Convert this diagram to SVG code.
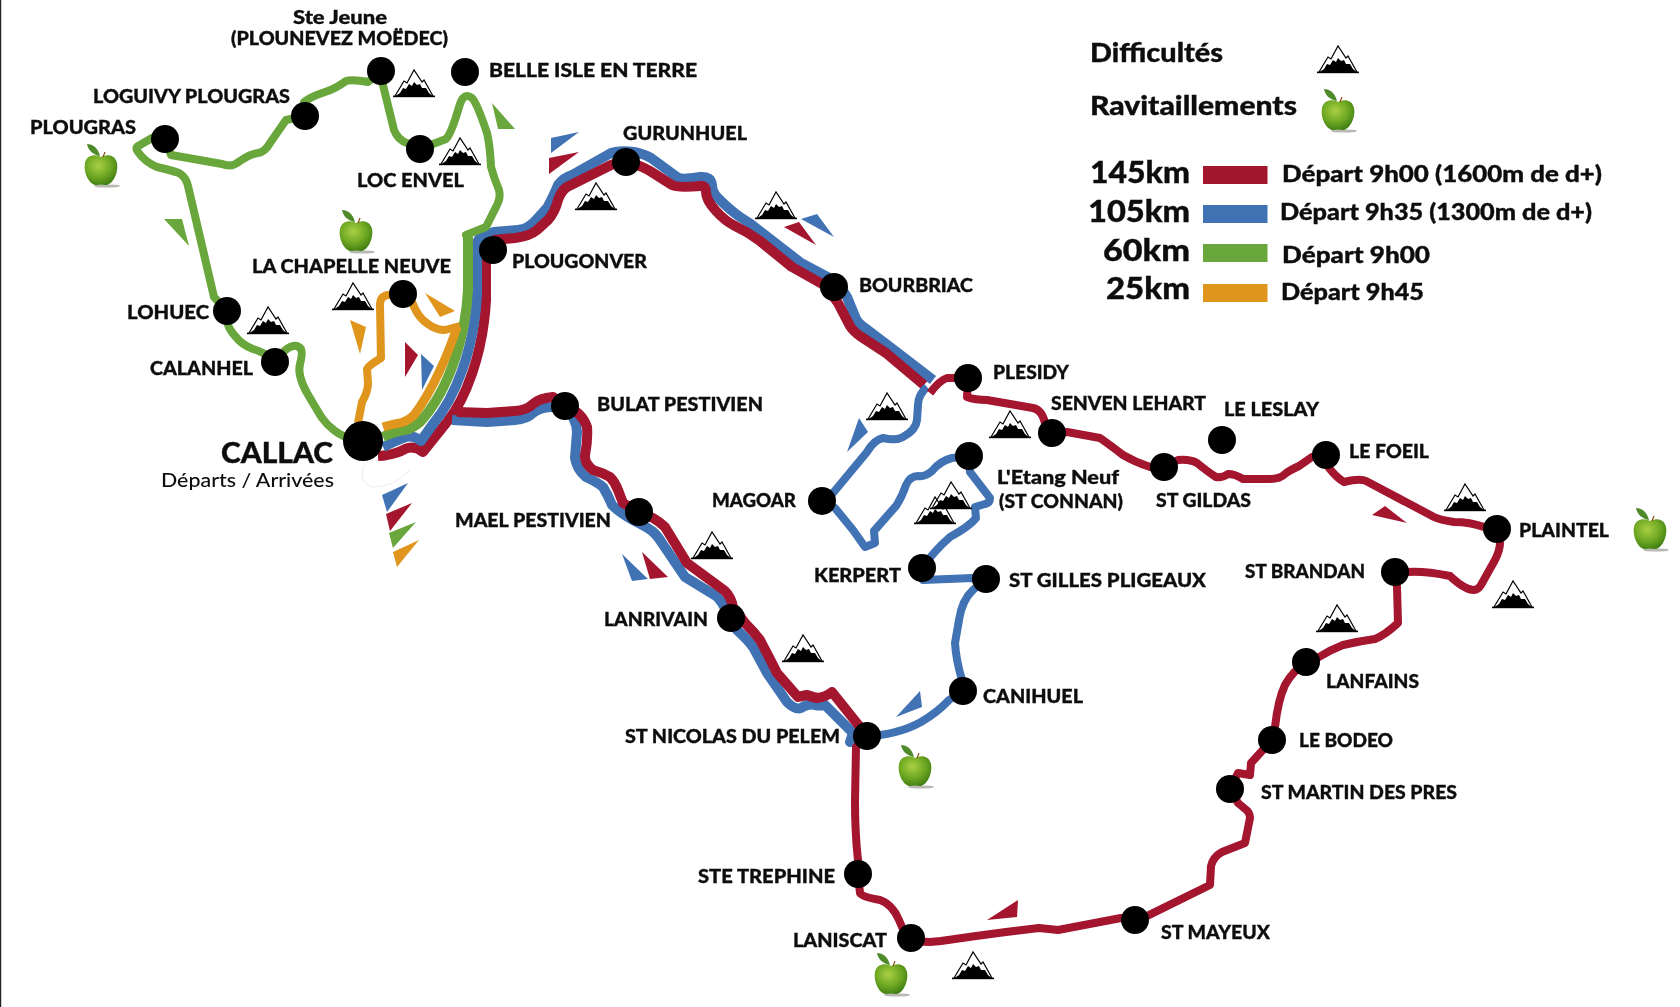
<svg xmlns="http://www.w3.org/2000/svg" width="1680" height="1007" viewBox="0 0 1680 1007">
<style>
.r{fill:none;stroke-width:8;stroke-linejoin:round;stroke-linecap:butt}
.p{stroke-width:10}
.red{stroke:#a3132f}.blue{stroke:#4072b4}.green{stroke:#69a63a}.orange{stroke:#e0951f}
.fr{fill:#a3132f}.fb{fill:#4072b4}.fg{fill:#69a63a}.fo{fill:#e0951f}
.n{fill:#000}
text{font-family:"Lato","Open Sans","Liberation Sans",sans-serif;fill:#0c0c0c;stroke:#0c0c0c;stroke-width:0.35px}
.l{font-size:19.5px;font-weight:900}
.h{font-size:27px;font-weight:900}
.k{font-size:31px;font-weight:900}
.d{font-size:23px;font-weight:900}
</style>
<defs>
<filter id="soft" filterUnits="userSpaceOnUse" x="0" y="0" width="1680" height="1007"><feGaussianBlur stdDeviation="0.5"/></filter>
<radialGradient id="ag" cx="0.42" cy="0.35" r="0.7">
<stop offset="0" stop-color="#a9d044"/><stop offset="0.55" stop-color="#6fa823"/><stop offset="1" stop-color="#3c7a12"/>
</radialGradient>
<g id="apple">
<ellipse cx="6" cy="0" rx="13" ry="1.6" fill="#8a8a80" opacity="0.6"/>
<path d="M0,-29C5,-32 14,-32 16,-23C18,-13 11,0 4,-1C2,-1.5 -2,-1.5 -4,-1C-11,0 -18,-13 -16,-23C-14,-32 -5,-32 0,-29Z" fill="url(#ag)"/>
<path d="M-1,-30C-3,-38 -8,-42 -14,-42C-13,-36 -8,-31 -1,-30Z" fill="#4f8a2c"/>
<path d="M2,-29L4,-34" stroke="#8a4b20" stroke-width="1.2" fill="none"/>
</g>
<g id="mtn">
<path d="M-19,26L-10,11L-7,13L0,0L8,12L10,10L19,26" fill="none" stroke="#000" stroke-width="1.2"/>
<path d="M-20,27L-14,23L-11,18L-8,19L-5,14L-2,16L0,12L3,15L6,14L8,18L12,18L15,23L20,27Z" fill="#000"/>
<rect x="-21" y="25.6" width="42" height="1.6" fill="#000"/>
</g>
</defs>
<rect width="1680" height="1007" fill="#fff"/>
<rect width="1.2" height="1007" fill="#222"/>
<g filter="url(#soft)">
<g id="connectors">
<path class="r p red" d="M378,456Q395,455 405,449Q414,445 423,452L447,422C465,400 483,355 486,300L486,262L493,249"/>
<path class="r p blue" d="M383,447Q397,440 406,437Q414,435 421,441L433,424C455,398 474,350 477,295L477,245Q477,238 484,236L494,232L518,230Q528,229 536,220L547,208Q554,195 558,185Q563,178 572,175L611,153Q620,150 634,152Q645,154 651,158L677,177Q681,180 700,177Q711,176 712,185Q712,193 719,199Q730,210 740,217Q752,224 761,232L801,263L833,280Q843,290 847,297L856,319Q858,323 865,328L894,350L933,380"/>
<path class="r p red" d="M493,240L515,238Q530,236 537,230L548,220Q555,212 558,200Q561,191 567,187L611,165Q620,161 630,163Q640,165 650,171L672,185Q677,188 700,186Q706,185 706,192Q706,200 716,211Q725,221 735,226Q748,232 760,241L792,267L824,285Q834,297 838,303L850,326Q853,331 860,336L886,353L924,385"/>
<path class="r p green" d="M383,437Q395,431 405,430Q412,429 420,422C445,395 465,345 468,290L468,237"/>
<path class="r orange" d="M383,427Q393,424 400,423Q408,421 414,415C432,392 449,352 457,327" style="stroke-width:9"/>
<path class="r orange" d="M403,294L412,302Q418,318 428,324Q436,330 445,330L460,326"/>
<path class="r orange" d="M358,423L362,402Q368,392 368,383L367,369Q368,366 381,358L380,305Q380,296 388,295L403,294"/>
<path class="r green" d="M363,441L353,439Q343,437 335,431Q327,425 322,418Q317,410 307,393Q297,375 300,364Q303,353 301,349Q298,345 293,346Q287,347 281,355L275,362"/>
<path class="r green" d="M275,362L269,357Q263,352 253,349Q242,345 235,336Q227,327 227,319L227,311"/>
<path class="r green" d="M227,311L214,297L188,186Q186,177 179,173Q170,170 157,167Q145,162 138,152Q134,147 140,145L152,138L165,139"/>
<path class="r green" d="M165,139L171,155L222,164Q232,168 240,161Q250,154 258,153Q265,152 270,143L286,120L305,116"/>
<path class="r green" d="M305,116L304,102Q310,97 325,92Q335,89 346,81Q352,79 368,82L381,71"/>
<path class="r green" d="M381,71L383,85L394,130Q398,140 407,143L420,149"/>
<path class="r green" d="M420,149L446,139Q450,135 455,120L460,104Q464,92 472,98Q477,103 487,133Q490,145 491,167Q494,178 499,190Q501,197 497,205L486,227L466,235L468,240"/>
<path class="r blue" d="M927,387Q918,395 918,405L917,420Q916,430 903,437Q896,441 883,438Q874,440 867,452L833,493L822,501"/>
<path class="r blue" d="M822,501L835,508L853,530L865,547L875,543L874,531L896,506Q902,497 906,485Q910,476 918,476Q925,477 932,471Q940,461 952,458L969,456"/>
<path class="r blue" d="M969,456L970,472L990,498Q990,503 985,504L975,507L976,518Q970,526 950,537Q935,550 922,568"/>
<path class="r blue" d="M922,568L923,580L973,578L986,579"/>
<path class="r blue" d="M986,579L973,590Q962,600 959,620L955,643Q956,660 962,680L963,691"/>
<path class="r blue" d="M963,691L949,700Q938,712 921,722Q903,732 880,735L867,736"/>
<path class="r p blue" d="M452,420L487,422L515,420Q527,419 533,413Q540,407 553,407L565,406Q577,420 577,432L575,458Q577,470 586,477Q597,482 603,487Q608,495 612,505Q620,513 633,520Q645,526 652,531Q657,535 662,543L685,577L716,596Q722,601 727,613Q732,622 737,630Q748,640 753,647Q760,660 767,673L787,702Q795,710 801,708Q808,703 815,705Q820,706 825,705L853,733L850,742L867,736"/>
<path class="r p red" d="M457,412L487,413L515,411Q527,410 533,404Q540,398 553,397L565,406Q582,412 587,427Q588,440 585,455Q584,463 593,470Q603,473 610,477Q615,482 618,490L623,503L639,512L653,518Q660,522 665,527L687,563L725,591Q731,597 733,607L745,623Q754,632 760,640Q768,655 777,673L798,697Q802,696 807,695Q812,697 817,698Q826,697 832,692L860,727L867,736"/>
<path class="r red" d="M867,736L856,747L855,800Q855,835 858,860L858,874"/>
<path class="r red" d="M858,874L860,893Q862,897 880,900Q892,904 899,920L902,927L911,938"/>
<path class="r red" d="M911,938Q918,942 930,942L941,941Q975,936 1006,932L1039,928L1058,930L1121,918L1135,918"/>
<path class="r red" d="M1135,918L1145,917L1210,885L1211,866Q1213,857 1222,852L1245,843L1250,818Q1250,812 1244,808L1238,803L1230,789"/>
<path class="r red" d="M1230,789L1238,773L1250,775L1251,763L1272,740"/>
<path class="r red" d="M1272,740L1275,727Q1278,700 1285,685Q1292,672 1306,662"/>
<path class="r red" d="M1306,662L1319,657Q1330,650 1343,645Q1360,641 1375,639Q1385,635 1398,623L1397,587L1395,572"/>
<path class="r red" d="M1395,572L1408,572Q1425,571 1450,576Q1465,590 1474,590Q1478,590 1481,585L1495,560Q1500,550 1500,543L1497,529"/>
<path class="r red" d="M1497,529L1484,527Q1470,522 1454,522Q1440,520 1434,517L1366,481Q1360,478 1344,482Q1337,478 1329,468L1326,455"/>
<path class="r red" d="M1326,455L1312,457L1299,466Q1290,470 1285,474Q1280,479 1270,479L1243,479Q1235,474 1228,474Q1222,478 1216,477Q1208,472 1197,463Q1190,459 1178,460L1164,467"/>
<path class="r red" d="M1164,467L1150,467Q1135,462 1123,455Q1110,445 1100,438L1067,432L1052,433"/>
<path class="r red" d="M1052,433L1045,423Q1042,410 1033,408L987,400Q975,400 967,397L968,378"/>
<path class="r red" d="M968,378L947,378Q940,380 930,393"/>
<path d="M364,465Q358,482 372,487Q392,488 410,470" fill="none" stroke="#e4e4e4" stroke-width="0.8"/>
</g>

<g id="arrows">
<polygon class="fg" points="492,103 515,129 498,129"/>
<polygon class="fg" points="164,219 182,219 189,246"/>
<polygon class="fo" points="425,293 455,311 440,317"/>
<polygon class="fo" points="350,320 366,327 360,354"/>
<polygon class="fr" points="405,342 418,355 405,377"/>
<polygon class="fb" points="421,354 434,366 422,390"/>
<polygon class="fb" points="382,495 408,483 387,512"/>
<polygon class="fr" points="386,514 412,503 390,531"/>
<polygon class="fg" points="389,533 416,522 393,548"/>
<polygon class="fo" points="393,552 419,540 397,567"/>
<polygon class="fb" points="551,138 579,132 551,153"/>
<polygon class="fr" points="549,158 579,152 549,174"/>
<polygon class="fr" points="784,227 799,222 816,245"/>
<polygon class="fb" points="801,219 817,214 834,237"/>
<polygon class="fb" points="859,418 868,432 847,452"/>
<polygon class="fb" points="920,691 922,707 896,717"/>
<polygon class="fb" points="622,554 648,579 632,581"/>
<polygon class="fr" points="642,552 668,577 650,579"/>
<polygon class="fr" points="1018,900 1017,917 987,920"/>
<polygon class="fr" points="1385,506 1407,523 1372,515"/>
</g>

<g id="difficulties">
<use href="#mtn" x="414" y="70"/><use href="#mtn" x="460" y="138"/><use href="#mtn" x="353" y="283"/><use href="#mtn" x="268" y="307"/>
<use href="#mtn" x="596" y="183"/><use href="#mtn" x="776" y="192"/><use href="#mtn" x="887" y="393"/><use href="#mtn" x="1010" y="411"/>
<use href="#mtn" x="951" y="482"/><use href="#mtn" x="935" y="497"/><use href="#mtn" x="712" y="532"/><use href="#mtn" x="803" y="635"/>
<use href="#mtn" x="973" y="952"/><use href="#mtn" x="1465" y="484"/><use href="#mtn" x="1513" y="581"/><use href="#mtn" x="1337" y="605"/>
</g>
<g id="supplies">
<use href="#apple" x="101" y="186"/><use href="#apple" x="356" y="252"/><use href="#apple" x="915" y="787"/><use href="#apple" x="891" y="995"/><use href="#apple" x="1650" y="550"/>
</g>

<g id="node-ste-jeune"><circle class="n" cx="381" cy="71" r="14"/><text class="l" x="293" y="24" textLength="94" lengthAdjust="spacingAndGlyphs">Ste Jeune</text><text class="l" x="231" y="45" textLength="217" lengthAdjust="spacingAndGlyphs">(PLOUNEVEZ MOËDEC)</text></g>
<g id="node-belle-isle"><circle class="n" cx="465" cy="72" r="14"/><text class="l" x="489" y="77" textLength="208" lengthAdjust="spacingAndGlyphs">BELLE ISLE EN TERRE</text></g>
<g id="node-loguivy"><circle class="n" cx="305" cy="116" r="14"/><text class="l" x="93" y="103" textLength="197" lengthAdjust="spacingAndGlyphs">LOGUIVY PLOUGRAS</text></g>
<g id="node-plougras"><circle class="n" cx="165" cy="139" r="14"/><text class="l" x="30" y="134" textLength="106" lengthAdjust="spacingAndGlyphs">PLOUGRAS</text></g>
<g id="node-loc-envel"><circle class="n" cx="420" cy="149" r="14"/><text class="l" x="357" y="187" textLength="107" lengthAdjust="spacingAndGlyphs">LOC ENVEL</text></g>
<g id="node-chapelle"><circle class="n" cx="403" cy="294" r="14"/><text class="l" x="252" y="273" textLength="199" lengthAdjust="spacingAndGlyphs">LA CHAPELLE NEUVE</text></g>
<g id="node-lohuec"><circle class="n" cx="227" cy="311" r="14"/><text class="l" x="127" y="319" textLength="82" lengthAdjust="spacingAndGlyphs">LOHUEC</text></g>
<g id="node-calanhel"><circle class="n" cx="275" cy="362" r="14"/><text class="l" x="150" y="375" textLength="103" lengthAdjust="spacingAndGlyphs">CALANHEL</text></g>
<g id="node-callac"><circle class="n" cx="363" cy="441" r="20"/><text x="221" y="463" font-size="28" font-weight="900" textLength="112" lengthAdjust="spacingAndGlyphs">CALLAC</text><text x="161" y="487" font-size="19" font-weight="500" textLength="173" lengthAdjust="spacingAndGlyphs" style="stroke-width:0">Départs / Arrivées</text></g>
<g id="node-plougonver"><circle class="n" cx="493" cy="250" r="14"/><text class="l" x="512" y="268" textLength="135" lengthAdjust="spacingAndGlyphs">PLOUGONVER</text></g>
<g id="node-gurunhuel"><circle class="n" cx="626" cy="162" r="14"/><text class="l" x="623" y="140" textLength="124" lengthAdjust="spacingAndGlyphs">GURUNHUEL</text></g>
<g id="node-bourbriac"><circle class="n" cx="834" cy="287" r="14"/><text class="l" x="859" y="292" textLength="114" lengthAdjust="spacingAndGlyphs">BOURBRIAC</text></g>
<g id="node-plesidy"><circle class="n" cx="968" cy="378" r="14"/><text class="l" x="993" y="379" textLength="76" lengthAdjust="spacingAndGlyphs">PLESIDY</text></g>
<g id="node-senven"><circle class="n" cx="1052" cy="433" r="14"/><text class="l" x="1051" y="410" textLength="155" lengthAdjust="spacingAndGlyphs">SENVEN LEHART</text></g>
<g id="node-leslay"><circle class="n" cx="1222" cy="440" r="14"/><text class="l" x="1224" y="416" textLength="95" lengthAdjust="spacingAndGlyphs">LE LESLAY</text></g>
<g id="node-gildas"><circle class="n" cx="1164" cy="467" r="14"/><text class="l" x="1156" y="507" textLength="95" lengthAdjust="spacingAndGlyphs">ST GILDAS</text></g>
<g id="node-foeil"><circle class="n" cx="1326" cy="455" r="14"/><text class="l" x="1349" y="458" textLength="80" lengthAdjust="spacingAndGlyphs">LE FOEIL</text></g>
<g id="node-plaintel"><circle class="n" cx="1497" cy="529" r="14"/><text class="l" x="1519" y="537" textLength="90" lengthAdjust="spacingAndGlyphs">PLAINTEL</text></g>
<g id="node-brandan"><circle class="n" cx="1395" cy="572" r="14"/><text class="l" x="1245" y="578" textLength="120" lengthAdjust="spacingAndGlyphs">ST BRANDAN</text></g>
<g id="node-lanfains"><circle class="n" cx="1306" cy="662" r="14"/><text class="l" x="1326" y="688" textLength="93" lengthAdjust="spacingAndGlyphs">LANFAINS</text></g>
<g id="node-bodeo"><circle class="n" cx="1272" cy="740" r="14"/><text class="l" x="1299" y="747" textLength="94" lengthAdjust="spacingAndGlyphs">LE BODEO</text></g>
<g id="node-martin"><circle class="n" cx="1230" cy="789" r="14"/><text class="l" x="1261" y="799" textLength="196" lengthAdjust="spacingAndGlyphs">ST MARTIN DES PRES</text></g>
<g id="node-mayeux"><circle class="n" cx="1135" cy="920" r="14"/><text class="l" x="1161" y="939" textLength="109" lengthAdjust="spacingAndGlyphs">ST MAYEUX</text></g>
<g id="node-laniscat"><circle class="n" cx="911" cy="938" r="14"/><text class="l" x="793" y="947" textLength="94" lengthAdjust="spacingAndGlyphs">LANISCAT</text></g>
<g id="node-trephine"><circle class="n" cx="858" cy="874" r="14"/><text class="l" x="698" y="883" textLength="137" lengthAdjust="spacingAndGlyphs">STE TREPHINE</text></g>
<g id="node-nicolas"><circle class="n" cx="867" cy="736" r="14"/><text class="l" x="625" y="743" textLength="215" lengthAdjust="spacingAndGlyphs">ST NICOLAS DU PELEM</text></g>
<g id="node-canihuel"><circle class="n" cx="963" cy="691" r="14"/><text class="l" x="983" y="703" textLength="100" lengthAdjust="spacingAndGlyphs">CANIHUEL</text></g>
<g id="node-gilles"><circle class="n" cx="986" cy="579" r="14"/><text class="l" x="1009" y="587" textLength="197" lengthAdjust="spacingAndGlyphs">ST GILLES PLIGEAUX</text></g>
<g id="node-kerpert"><circle class="n" cx="922" cy="568" r="14"/><text class="l" x="814" y="582" textLength="87" lengthAdjust="spacingAndGlyphs">KERPERT</text></g>
<g id="node-etang"><circle class="n" cx="969" cy="456" r="14"/><text class="l" x="997" y="484" textLength="122" lengthAdjust="spacingAndGlyphs">L'Etang Neuf</text><text class="l" x="999" y="508" textLength="124" lengthAdjust="spacingAndGlyphs">(ST CONNAN)</text></g>
<g id="node-magoar"><circle class="n" cx="822" cy="501" r="14"/><text class="l" x="712" y="507" textLength="84" lengthAdjust="spacingAndGlyphs">MAGOAR</text></g>
<g id="node-bulat"><circle class="n" cx="565" cy="406" r="14"/><text class="l" x="597" y="411" textLength="166" lengthAdjust="spacingAndGlyphs">BULAT PESTIVIEN</text></g>
<g id="node-mael"><circle class="n" cx="639" cy="512" r="14"/><text class="l" x="455" y="527" textLength="156" lengthAdjust="spacingAndGlyphs">MAEL PESTIVIEN</text></g>
<g id="node-lanrivain"><circle class="n" cx="731" cy="618" r="14"/><text class="l" x="604" y="626" textLength="104" lengthAdjust="spacingAndGlyphs">LANRIVAIN</text></g>

<g id="legend">
<text class="h" x="1090" y="62" textLength="133" lengthAdjust="spacingAndGlyphs">Difficultés</text>
<use href="#mtn" x="1338" y="46"/>
<text class="h" x="1090" y="115" textLength="207" lengthAdjust="spacingAndGlyphs">Ravitaillements</text>
<use href="#apple" x="1338" y="131"/>
<text class="k" x="1090" y="183" textLength="100" lengthAdjust="spacingAndGlyphs">145km</text>
<rect class="fr" x="1203" y="166" width="64.5" height="18"/>
<text class="d" x="1282" y="182" textLength="320" lengthAdjust="spacingAndGlyphs">Départ 9h00 (1600m de d+)</text>
<text class="k" x="1088" y="222" textLength="102" lengthAdjust="spacingAndGlyphs">105km</text>
<rect class="fb" x="1203" y="205" width="64.5" height="18"/>
<text class="d" x="1280" y="220" textLength="312" lengthAdjust="spacingAndGlyphs">Départ 9h35 (1300m de d+)</text>
<text class="k" x="1103" y="261" textLength="87" lengthAdjust="spacingAndGlyphs">60km</text>
<rect class="fg" x="1203" y="244" width="64.5" height="18"/>
<text class="d" x="1282" y="263" textLength="148" lengthAdjust="spacingAndGlyphs">Départ 9h00</text>
<text class="k" x="1106" y="299" textLength="84" lengthAdjust="spacingAndGlyphs">25km</text>
<rect class="fo" x="1203" y="284" width="64.5" height="18"/>
<text class="d" x="1281" y="300" textLength="143" lengthAdjust="spacingAndGlyphs">Départ 9h45</text>
</g>
</g>
</svg>
